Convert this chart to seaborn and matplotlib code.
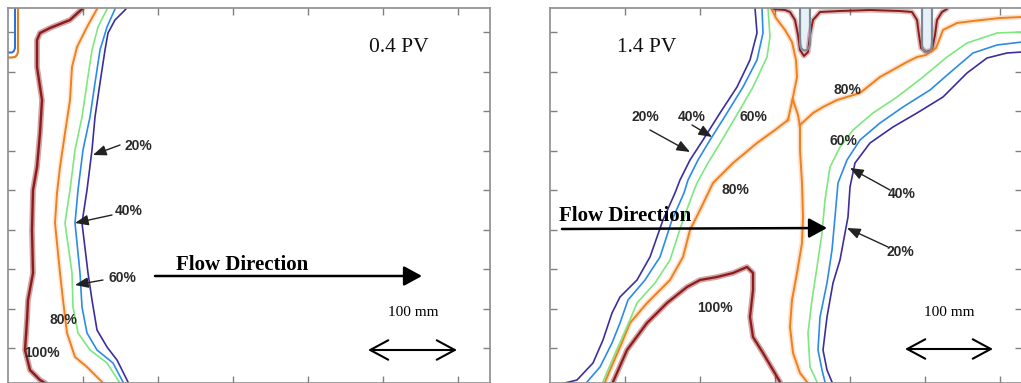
import matplotlib
matplotlib.use("Agg")
import matplotlib.pyplot as plt
import numpy as np
import seaborn as sns

# ---------------------------------------------------------------------------
# Tracer concentration contours (x across the tank, y = depth from top),
# two snapshots: 0.4 PV and 1.4 PV injected.
# ---------------------------------------------------------------------------
PANEL_H = 374.5
LEFT_W = 482.0
RIGHT_W = 472.0

levels = ["20%", "40%", "60%", "80%", "100%"]
level_colors = {"20%": "#3b2f9e", "40%": "#2b8ce8", "60%": "#7de87d",
                "80%": "#f07f1e", "100%": "#8e1b1b"}

# ---- 0.4 PV ----------------------------------------------------------------
pv04_c20_x = [118, 107, 100, 97, 92, 87, 84, 79, 74, 80, 84, 89, 99, 109, 120]
pv04_c20_y = [1, 12, 25, 42, 75, 109, 142, 182, 215, 265, 292, 322, 339, 352, 374]
pv04_c40_x = [107, 99, 92, 87, 82, 75, 70, 67, 72, 74, 79, 89, 105, 115]
pv04_c40_y = [1, 19, 42, 75, 109, 142, 182, 215, 265, 299, 325, 342, 355, 374]
pv04_c60_x = [99, 90, 84, 79, 74, 67, 62, 57, 64, 65, 70, 82, 99, 110, 112]
pv04_c60_y = [1, 19, 42, 75, 109, 142, 182, 215, 265, 299, 325, 342, 355, 372, 375]
pv04_c80_x = [89, 79, 69, 64, 62, 57, 52, 49, 47, 52, 55, 59, 67, 79, 92, 95]
pv04_c80_y = [1, 19, 39, 59, 92, 125, 159, 185, 215, 265, 292, 325, 349, 359, 372, 375]
pv04_c100_x = [74, 62, 42, 32, 29, 29, 34, 32, 29, 25, 24, 25, 20, 19, 17, 22, 32, 37]
pv04_c100_y = [1, 12, 20, 25, 32, 59, 92, 125, 159, 182, 222, 265, 292, 312, 342, 362, 372, 375]

# injection well at the upper-left corner
pv04_well_outer_x = [10, 10, 9, 7, 4, 0]
pv04_well_outer_y = [0, 44, 47, 49, 49.5, 49.5]
pv04_well_inner_x = [7, 7, 6, 4, 0]
pv04_well_inner_y = [0, 40, 43, 44.5, 44.5]

# ---- 1.4 PV ----------------------------------------------------------------
pv14_c20a_x = [205, 207, 200, 187, 170, 153, 140, 130, 125, 113, 100, 87, 70, 62, 53, 43, 27, 15]
pv14_c20a_y = [0, 25, 52, 79, 105, 132, 152, 172, 185, 212, 249, 272, 289, 305, 332, 355, 372, 375]
pv14_c40a_x = [212, 213, 207, 193, 177, 160, 148, 138, 134, 122, 110, 95, 78, 70, 62, 50, 37]
pv14_c40a_y = [0, 25, 52, 79, 105, 132, 152, 172, 185, 212, 249, 272, 292, 315, 335, 359, 374]
pv14_c60a_x = [218, 220, 217, 203, 188, 172, 158, 147, 143, 132, 120, 105, 87, 77, 68, 58, 53]
pv14_c60a_y = [0, 29, 49, 79, 105, 132, 155, 175, 185, 215, 252, 275, 295, 319, 339, 362, 374]

pv14_c20b_x = [472, 457, 437, 417, 393, 367, 343, 320, 305, 300, 298, 295, 290, 283, 277, 273, 277, 282]
pv14_c20b_y = [44, 45, 50, 65, 89, 105, 119, 135, 155, 179, 209, 225, 252, 275, 309, 342, 362, 374]
pv14_c40b_x = [472, 447, 423, 403, 380, 353, 330, 310, 297, 288, 285, 282, 277, 270, 268, 272, 275]
pv14_c40b_y = [34, 37, 45, 62, 82, 99, 115, 132, 152, 175, 209, 242, 275, 309, 342, 362, 374]
pv14_c60b_x = [472, 447, 417, 397, 373, 347, 323, 303, 290, 280, 275, 272, 267, 262, 258, 260, 267]
pv14_c60b_y = [24, 25, 35, 49, 69, 89, 105, 122, 139, 159, 192, 225, 259, 292, 325, 359, 374]

pv14_c80_stem_x = [221, 226, 235, 242, 246, 247, 243, 238]
pv14_c80_stem_y = [0, 10, 22, 34, 52, 69, 89, 112]
pv14_c80_left_x = [238, 225, 207, 183, 163, 150, 140, 133, 120, 97, 80, 70, 60, 55]
pv14_c80_left_y = [112, 122, 135, 155, 175, 202, 222, 249, 272, 295, 315, 339, 362, 374]
pv14_c80_mid_x = [243, 248, 250, 250, 252, 253, 252, 247, 242, 240, 243, 250, 257]
pv14_c80_mid_y = [92, 107, 119, 142, 175, 209, 235, 265, 292, 319, 345, 365, 374]
pv14_c80_right_x = [250, 263, 273, 287, 310, 330, 357, 367, 376, 386, 393, 407, 423, 450, 472]
pv14_c80_right_y = [117, 105, 99, 92, 85, 69, 54, 49, 47, 40, 22, 15, 13, 10, 9]

pv14_c100_top_x = [223, 235, 240, 245, 248, 250, 254, 258, 260, 263, 270, 290, 320, 350,
                   362, 367, 369, 371, 376, 382, 385, 387, 392, 397]
pv14_c100_top_y = [1, 2, 4, 12, 27, 42, 48, 44, 27, 12, 4, 3, 2, 3,
                   4, 12, 27, 40, 44, 42, 27, 12, 4, 1]
pv14_c100_arch_x = [63, 77, 97, 117, 137, 150, 167, 183, 197, 203, 203, 200, 203, 213, 223, 230]
pv14_c100_arch_y = [374, 342, 315, 295, 279, 272, 269, 265, 259, 265, 282, 309, 329, 345, 362, 374]

# production wells along the top boundary
pv14_well1_x = [250, 250, 251, 253, 255, 257, 259, 260, 260]
pv14_well1_y = [0, 36, 40, 42, 42.5, 42, 40, 36, 0]
pv14_well2_x = [372, 372, 373, 375, 377, 379, 381, 382, 382]
pv14_well2_y = [0, 38, 42, 44, 44.5, 44, 42, 38, 0]

# ---------------------------------------------------------------------------
sns.set_theme(style="white")
plt.rcParams["font.family"] = ["Liberation Sans", "DejaVu Sans"]

fig = plt.figure(figsize=(10.21, 3.83), dpi=100)
fig.patch.set_facecolor("white")
ax1 = fig.add_axes([8 / 1021, 0.5 / 383, LEFT_W / 1021, PANEL_H / 383])
ax2 = fig.add_axes([550 / 1021, 0.5 / 383, RIGHT_W / 1021, PANEL_H / 383])

LABEL_FONT = dict(fontsize=10, fontweight="bold", color="#2a2a2a",
                  family=["Liberation Sans", "DejaVu Sans"], ha="center", va="center")
SERIF = ["Liberation Serif", "DejaVu Serif"]


def contour(ax, xs, ys, level, lw=1.2, fuzzy=False, fuzz_alpha=0.3):
    color = level_colors[level]
    if fuzzy:
        sns.lineplot(x=xs, y=ys, sort=False, estimator=None, ax=ax, color=color,
                     lw=lw + 2.4, alpha=fuzz_alpha, legend=False)
    sns.lineplot(x=xs, y=ys, sort=False, estimator=None, ax=ax, color=color,
                 lw=lw, legend=False)


def style_panel(ax, width):
    ax.set_xlim(0, width)
    ax.set_ylim(PANEL_H, 0)
    ax.set_facecolor("white")
    ax.set_xticks(np.arange(75, width, 75))
    ax.set_yticks(24 + 39.5 * np.arange(9))
    ax.tick_params(direction="in", length=5, width=1, color="#808080",
                   top=True, right=True, bottom=True, left=True,
                   labelbottom=False, labelleft=False)
    ax.set_xlabel("")
    ax.set_ylabel("")
    for s in ax.spines.values():
        s.set_color("#8c8c8c")
        s.set_linewidth(1.2)
        s.set_visible(True)


def label_arrow(ax, text, text_xy, start, tip):
    ax.text(*text_xy, text, **LABEL_FONT)
    ax.annotate("", xy=tip, xytext=start,
                arrowprops=dict(arrowstyle="-|>,head_length=0.8,head_width=0.32",
                                mutation_scale=10, color="#222222", lw=1.0,
                                shrinkA=0, shrinkB=0))


def flow_arrow(ax, start, tip, text_xy):
    ax.text(*text_xy, "Flow Direction", fontsize=15, fontweight="bold",
            family=SERIF, ha="center", va="center", color="black")
    ax.annotate("", xy=tip, xytext=start,
                arrowprops=dict(arrowstyle="-|>,head_length=1.1,head_width=0.6",
                                mutation_scale=10, color="black", lw=1.8,
                                shrinkA=0, shrinkB=0))


def scale_bar(ax, x0, x1, y, text_xy):
    ax.text(*text_xy, "100 mm", fontsize=11, family=SERIF, ha="center",
            va="center", color="black")
    ax.annotate("", xy=(x1, y), xytext=(x0, y),
                arrowprops=dict(arrowstyle="<->,head_length=1.3,head_width=0.7",
                                mutation_scale=10, color="black", lw=1.5,
                                shrinkA=0, shrinkB=0))


# ---- panel 1: 0.4 PV -------------------------------------------------------
contour(ax1, pv04_c100_x, pv04_c100_y, "100%", lw=1.7, fuzzy=True, fuzz_alpha=0.4)
contour(ax1, pv04_c80_x, pv04_c80_y, "80%", lw=1.4, fuzzy=True, fuzz_alpha=0.15)
contour(ax1, pv04_c60_x, pv04_c60_y, "60%")
contour(ax1, pv04_c40_x, pv04_c40_y, "40%")
contour(ax1, pv04_c20_x, pv04_c20_y, "20%")
ax1.plot(pv04_well_outer_x, pv04_well_outer_y, color="#d9822b", lw=1.6)
ax1.plot(pv04_well_inner_x, pv04_well_inner_y, color="#2a6fd0", lw=1.4)

label_arrow(ax1, "20%", (130, 138), (112, 137), (85, 147))
label_arrow(ax1, "40%", (121, 203), (104, 207), (67, 215))
label_arrow(ax1, "60%", (114, 270), (95, 272), (67, 277))
ax1.text(55, 312, "80%", **LABEL_FONT)
ax1.text(34, 345, "100%", **LABEL_FONT)

ax1.text(391, 39, "0.4 PV", fontsize=15.5, family=SERIF, ha="center",
         va="center", color="#111111")
flow_arrow(ax1, (147, 268), (414, 268), (234, 257))
scale_bar(ax1, 360, 449, 342, (405, 305))
style_panel(ax1, LEFT_W)

# ---- panel 2: 1.4 PV -------------------------------------------------------
for wx, wy in [(pv14_well1_x, pv14_well1_y), (pv14_well2_x, pv14_well2_y)]:
    ax2.fill(wx, wy, color="#e6f0f8", zorder=1)
contour(ax2, pv14_c100_top_x, pv14_c100_top_y, "100%", lw=1.4, fuzzy=True)
contour(ax2, pv14_c100_arch_x, pv14_c100_arch_y, "100%", lw=1.6, fuzzy=True, fuzz_alpha=0.4)
for xs, ys in [(pv14_c80_stem_x, pv14_c80_stem_y), (pv14_c80_left_x, pv14_c80_left_y),
               (pv14_c80_mid_x, pv14_c80_mid_y), (pv14_c80_right_x, pv14_c80_right_y)]:
    contour(ax2, xs, ys, "80%", lw=1.4, fuzzy=True, fuzz_alpha=0.22)
for xs, ys, lev in [(pv14_c60a_x, pv14_c60a_y, "60%"), (pv14_c40a_x, pv14_c40a_y, "40%"),
                    (pv14_c20a_x, pv14_c20a_y, "20%"), (pv14_c60b_x, pv14_c60b_y, "60%"),
                    (pv14_c40b_x, pv14_c40b_y, "40%"), (pv14_c20b_x, pv14_c20b_y, "20%")]:
    contour(ax2, xs, ys, lev)
for wx, wy in [(pv14_well1_x, pv14_well1_y), (pv14_well2_x, pv14_well2_y)]:
    ax2.plot(wx, wy, color="#7d8a96", lw=1.6, zorder=4)

label_arrow(ax2, "20%", (95, 109), (100, 122), (140, 144))
label_arrow(ax2, "40%", (142, 109), (142, 117), (162, 129))
ax2.text(203, 109, "60%", **LABEL_FONT)
ax2.text(185, 182, "80%", **LABEL_FONT)
ax2.text(297, 82, "80%", **LABEL_FONT)
ax2.text(293, 133, "60%", **LABEL_FONT)
label_arrow(ax2, "40%", (352, 186), (340, 182), (300, 160))
label_arrow(ax2, "20%", (350, 244), (338, 239), (297, 220))
ax2.text(165, 300, "100%", **LABEL_FONT)

ax2.text(97, 39, "1.4 PV", fontsize=15.5, family=SERIF, ha="center",
         va="center", color="#111111")
flow_arrow(ax2, (12, 221), (277, 220), (75, 208))
scale_bar(ax2, 355, 443, 341, (399, 305))
style_panel(ax2, RIGHT_W)

fig.savefig("out.png", dpi=100, facecolor="white")
